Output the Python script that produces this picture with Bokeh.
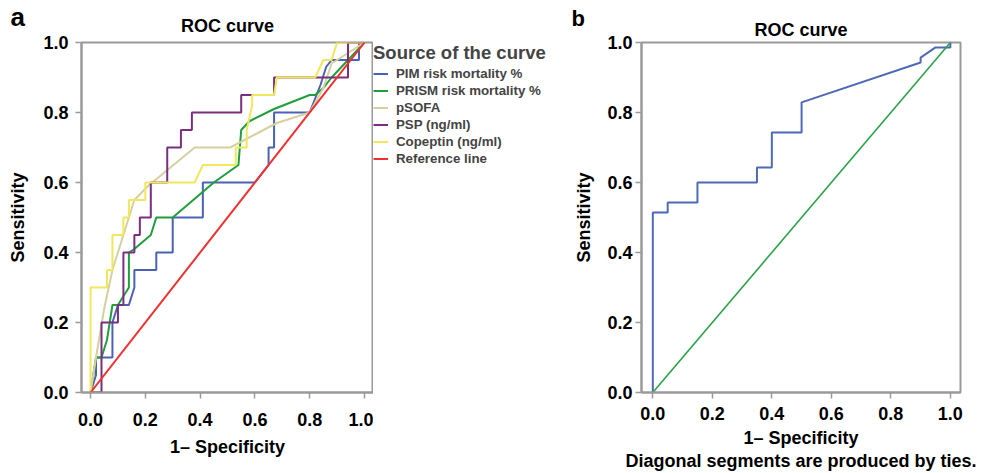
from bokeh.plotting import figure
from bokeh.models import Range1d, FixedTicker, PrintfTickFormatter, Legend, LegendItem, Title
from bokeh.layouts import row
from bokeh.embed import file_html
from bokeh.resources import INLINE

FONT = "Liberation Sans"
TICKS = [0.0, 0.2, 0.4, 0.6, 0.8, 1.0]

# ---- panel a data (1 - specificity, sensitivity) ----
pim_x = [0, 0.02, 0.02, 0.08, 0.08, 0.10, 0.14, 0.16, 0.16, 0.24, 0.24, 0.30, 0.30, 0.41, 0.41,
         0.60, 0.65, 0.65, 0.67, 0.67, 0.80, 0.84, 0.86, 0.88, 0.98, 0.98, 1.0]
pim_y = [0, 0.05, 0.10, 0.10, 0.20, 0.25, 0.25, 0.30, 0.35, 0.35, 0.40, 0.40, 0.50, 0.50, 0.60,
         0.60, 0.65, 0.70, 0.70, 0.80, 0.80, 0.88, 0.93, 0.95, 0.95, 1.0, 1.0]

prism_x = [0, 0.02, 0.04, 0.06, 0.08, 0.10, 0.14, 0.14, 0.16, 0.22, 0.24, 0.30, 0.45, 0.54,
           0.55, 0.58, 0.67, 0.80, 0.82, 0.85, 0.88, 1.0]
prism_y = [0, 0.10, 0.10, 0.15, 0.25, 0.25, 0.30, 0.40, 0.41, 0.45, 0.50, 0.50, 0.60, 0.65,
           0.75, 0.775, 0.81, 0.85, 0.85, 0.87, 0.90, 1.0]

psofa_x = [0, 0.02, 0.05, 0.08, 0.10, 0.12, 0.16, 0.21, 0.38, 0.51, 0.68, 0.80, 0.85, 0.88, 1.0]
psofa_y = [0, 0.10, 0.24, 0.35, 0.40, 0.45, 0.55, 0.59, 0.70, 0.70, 0.77, 0.80, 0.87, 0.94, 1.0]

psp_x = [0, 0.04, 0.04, 0.10, 0.10, 0.12, 0.12, 0.16, 0.16, 0.18, 0.18, 0.22, 0.22, 0.28, 0.28,
         0.33, 0.33, 0.37, 0.37, 0.55, 0.55, 0.67, 0.67, 0.94, 0.94, 1.0]
psp_y = [0, 0, 0.20, 0.20, 0.25, 0.25, 0.40, 0.40, 0.45, 0.45, 0.50, 0.50, 0.60, 0.60, 0.70,
         0.70, 0.75, 0.75, 0.80, 0.80, 0.85, 0.85, 0.90, 0.90, 1.0, 1.0]

cop_x = [0, 0, 0.06, 0.06, 0.08, 0.08, 0.12, 0.12, 0.14, 0.14, 0.20, 0.20, 0.38, 0.41, 0.53,
         0.53, 0.57, 0.57, 0.59, 0.59, 0.67, 0.68, 0.82, 0.85, 0.88, 0.90, 1.0]
cop_y = [0, 0.30, 0.30, 0.35, 0.35, 0.45, 0.45, 0.50, 0.50, 0.55, 0.55, 0.60, 0.60, 0.65, 0.65,
         0.70, 0.70, 0.75, 0.82, 0.85, 0.85, 0.90, 0.90, 0.95, 0.95, 1.0, 1.0]

ref_x = [0, 1]
ref_y = [0, 1]

series_names = ["PIM risk mortality %", "PRISM risk mortality %", "pSOFA",
                "PSP (ng/ml)", "Copeptin (ng/ml)", "Reference line"]
series_colors = ["#4a62b3", "#1f9e3c", "#d6cf9f", "#7a2e80", "#f0e85a", "#ee3030"]

# ---- panel b data ----
b_x = [0, 0, 0.05, 0.05, 0.15, 0.15, 0.35, 0.35, 0.40, 0.40, 0.50, 0.50, 0.90, 0.90, 0.95, 1.0, 1.0]
b_y = [0, 0.514, 0.514, 0.543, 0.543, 0.600, 0.600, 0.643, 0.643, 0.743, 0.743, 0.829, 0.943,
       0.957, 0.986, 0.986, 1.0]
b_ref_x = [0, 1]
b_ref_y = [0, 1]

GREY = "#9a9a9a"


def bold(t, size):
    t.text_font = FONT
    t.text_font_size = size
    t.text_font_style = "bold"
    t.text_color = "black"


def style(p, tick_standoff_y, label_standoff_y, tick_standoff_x, label_standoff_x):
    p.outline_line_color = GREY
    p.outline_line_width = 2
    p.xgrid.visible = False
    p.ygrid.visible = False
    for ax in (p.xaxis[0], p.yaxis[0]):
        ax.ticker = FixedTicker(ticks=TICKS, minor_ticks=[])
        ax.formatter = PrintfTickFormatter(format="%.1f")
        ax.axis_line_color = GREY
        ax.axis_line_width = 2
        ax.major_tick_line_color = GREY
        ax.major_tick_line_width = 1.5
        ax.major_tick_in = 0
        ax.major_tick_out = 6
        ax.minor_tick_line_color = None
        ax.major_label_text_font = FONT
        ax.major_label_text_font_size = "18px"
        ax.major_label_text_font_style = "bold"
        ax.major_label_text_color = "black"
        ax.axis_label_text_font = FONT
        ax.axis_label_text_font_size = "18px"
        ax.axis_label_text_font_style = "bold"
        ax.axis_label_text_color = "black"
    p.yaxis[0].major_label_standoff = tick_standoff_y
    p.yaxis[0].axis_label_standoff = label_standoff_y
    p.xaxis[0].major_label_standoff = tick_standoff_x
    p.xaxis[0].axis_label_standoff = label_standoff_x
    p.xaxis[0].axis_label = "1\u2013 Specificity"
    p.yaxis[0].axis_label = "Sensitivity"


# ---------------- panel a ----------------
pa = figure(width=373, height=473, x_range=Range1d(-0.033, 1.033), y_range=Range1d(0, 1),
            title=None, toolbar_location=None, output_backend="svg",
            min_border_left=81, min_border_right=0, min_border_top=42, min_border_bottom=81)
style(pa, 7, 12, 14, 8)
ta = Title(text="ROC curve", align="center", standoff=14, vertical_align="bottom")
bold(ta, "18px")
pa.add_layout(ta, "above")
la = Title(text="a", align="left", offset=-71, standoff=-51, vertical_align="bottom")
bold(la, "26px")
pa.add_layout(la, "above")

xs = [pim_x, prism_x, psofa_x, psp_x, cop_x, ref_x]
ys = [pim_y, prism_y, psofa_y, psp_y, cop_y, ref_y]
for color, x, y in zip(series_colors, xs, ys):
    pa.line(x, y, line_color=color, line_width=2)

# ---------------- legend panel (same series, drawn out of view; only the legend shows) ----------------
pl = figure(width=197, height=473, x_range=Range1d(5, 6), y_range=Range1d(5, 6),
            toolbar_location=None, output_backend="svg",
            x_axis_location=None, y_axis_location=None,
            min_border_left=0, min_border_right=0, min_border_top=42, min_border_bottom=81)
pl.outline_line_color = None
pl.xgrid.visible = False
pl.ygrid.visible = False
items = []
for name, color, x, y in zip(series_names, series_colors, xs, ys):
    r = pl.line(x, y, line_color=color, line_width=2)
    items.append(LegendItem(label=name, renderers=[r]))
legend = Legend(items=items, location="top_left", title="Source of the curve",
                title_text_font=FONT, title_text_font_size="18.5px", title_text_font_style="bold",
                title_standoff=2,
                label_text_font=FONT, label_text_font_size="13.3px", label_text_font_style="bold",
                glyph_width=15, glyph_height=13, label_height=13, label_standoff=8,
                spacing=2, padding=2, margin=0,
                border_line_color=None, background_fill_alpha=0)
pl.add_layout(legend)

# ---------------- panel b ----------------
pb = figure(width=414, height=473, x_range=Range1d(-0.038, 1.034), y_range=Range1d(0, 1),
            title=None, toolbar_location=None, output_backend="svg",
            min_border_left=71, min_border_right=24, min_border_top=42, min_border_bottom=81)
style(pb, 3, 10, 8, 5)
tb = Title(text="ROC curve", align="center", standoff=6, vertical_align="bottom")
bold(tb, "18px")
pb.add_layout(tb, "above")
lb = Title(text="b", align="left", offset=-70, standoff=-33, vertical_align="bottom")
bold(lb, "22px")
pb.add_layout(lb, "above")
cap = Title(text="Diagonal segments are produced by ties.", align="center", standoff=-4,
            vertical_align="bottom")
bold(cap, "18px")
pb.add_layout(cap, "below")

pb.line(b_x, b_y, line_color="#4f69b8", line_width=2)
pb.line(b_ref_x, b_ref_y, line_color="#2ca34a", line_width=1.6)

layout = row(pa, pl, pb, spacing=0)
open("out.html", "w").write(file_html(layout, INLINE))
